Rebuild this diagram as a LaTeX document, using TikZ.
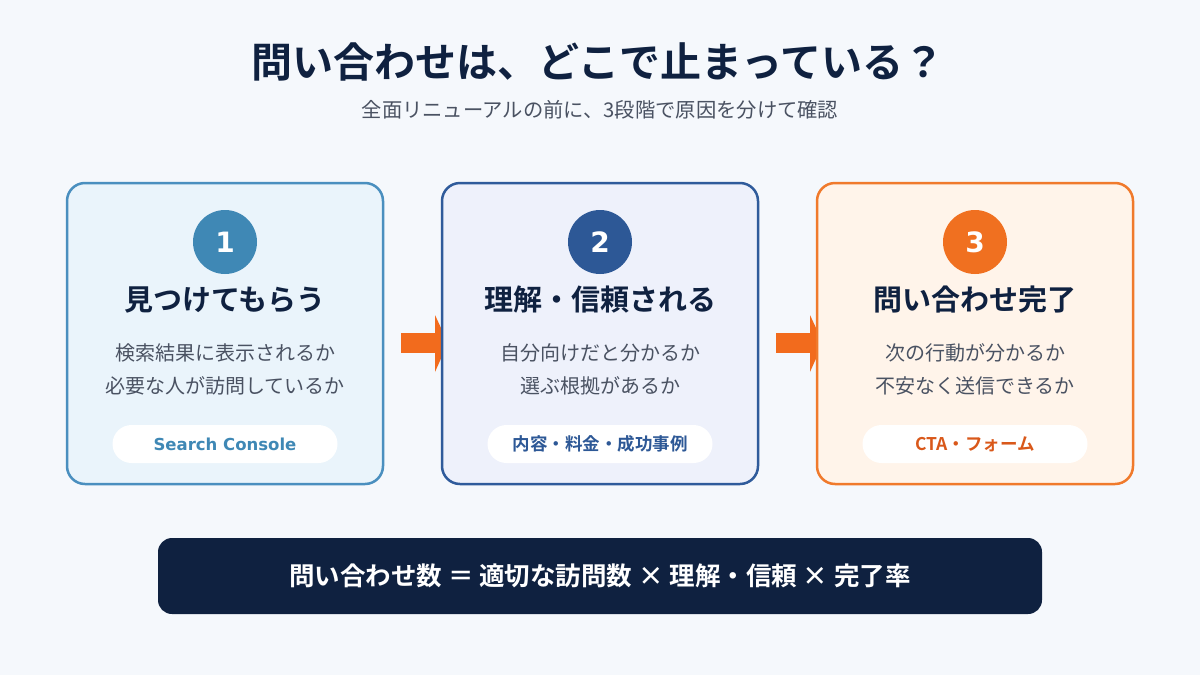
\documentclass[tikz,border=0pt]{standalone}
\usepackage{fontspec}
\setmainfont{Noto Sans CJK JP}
\newfontfamily\jpb{Noto Sans CJK JP Bold}
\newfontfamily\djb{DejaVu Sans Bold}
\begin{document}
\definecolor{bg}{HTML}{F5F8FC}
\definecolor{navy}{HTML}{0F2140}
\definecolor{body}{HTML}{4A5262}
\definecolor{bA}{HTML}{4A8FBF}\definecolor{fA}{HTML}{EAF4FB}\definecolor{cA}{HTML}{3F88B5}
\definecolor{bB}{HTML}{2F5B9B}\definecolor{fB}{HTML}{EEF1FB}\definecolor{cB}{HTML}{2D5896}
\definecolor{bC}{HTML}{F07A2C}\definecolor{fC}{HTML}{FFF4EA}\definecolor{cC}{HTML}{F07020}
\definecolor{arr}{HTML}{F26B1D}\definecolor{pC}{HTML}{D9581A}
\begin{tikzpicture}[x=1pt,y=-1pt,
 card/.style={draw,line width=2.5pt,rounded corners=18pt,minimum width=316pt,minimum height=301pt},
 num/.style={circle,minimum size=64pt,inner sep=0,text=white,font=\djb\fontsize{28}{28}\selectfont},
 ttl/.style={text=navy,font=\jpb\fontsize{29}{29}\selectfont},
 txt/.style={text=body,align=center,font=\fontsize{20}{33}\selectfont},
 pill/.style={fill=white,rounded corners=19pt,minimum width=225pt,minimum height=38pt,font=\jpb\fontsize{17.5}{17.5}\selectfont}]
\fill[bg] (0,0) rectangle (1200,675);
\node[text=navy,font=\jpb\fontsize{41}{41}\selectfont] (t) at (598,62) {問い合わせは、どこで止まっている？};
\node[text=body,font=\fontsize{20.3}{20.3}\selectfont] (s) at (600,110) {全面リニューアルの前に、3段階で原因を分けて確認};
\fill[arr] (401,333) rectangle (436,353);
\fill[arr] (435,315) -- (448,343) -- (435,372) -- cycle;
\fill[arr] (776,333) rectangle (811,353);
\fill[arr] (810,315) -- (823,343) -- (810,372) -- cycle;
\node[card,draw=bA,fill=fA] (c1) at (225,333.5) {};
\node[card,draw=bB,fill=fB] (c2) at (600,333.5) {};
\node[card,draw=bC,fill=fC] (c3) at (975,333.5) {};
\node[num,fill=cA] (n1) at (225,242) {1};
\node[num,fill=cB] (n2) at (600,242) {2};
\node[num,fill=cC] (n3) at (975,242) {3};
\node[ttl] (h1) at (225,300) {見つけてもらう};
\node[ttl] (h2) at (600,300) {理解・信頼される};
\node[ttl] (h3) at (975,300) {問い合わせ完了};
\node[txt] (d1) at (225,369) {検索結果に表示されるか\\必要な人が訪問しているか};
\node[txt] (d2) at (600,369) {自分向けだと分かるか\\選ぶ根拠があるか};
\node[txt] (d3) at (975,369) {次の行動が分かるか\\不安なく送信できるか};
\node[pill,text=cA] (p1) at (225,444) {\djb\fontsize{16.5}{16.5}\selectfont Search Console};
\node[pill,text=cB] (p2) at (600,444) {内容・料金・成功事例};
\node[pill,text=pC] (p3) at (975,444) {CTA・フォーム};
\node[fill=navy,rounded corners=14pt,minimum width=884pt,minimum height=76pt,text=white,font=\jpb\fontsize{25.5}{25.5}\selectfont] (b) at (600,576) {問い合わせ数 ＝ 適切な訪問数 × 理解・信頼 × 完了率};
\end{tikzpicture}
\end{document}
